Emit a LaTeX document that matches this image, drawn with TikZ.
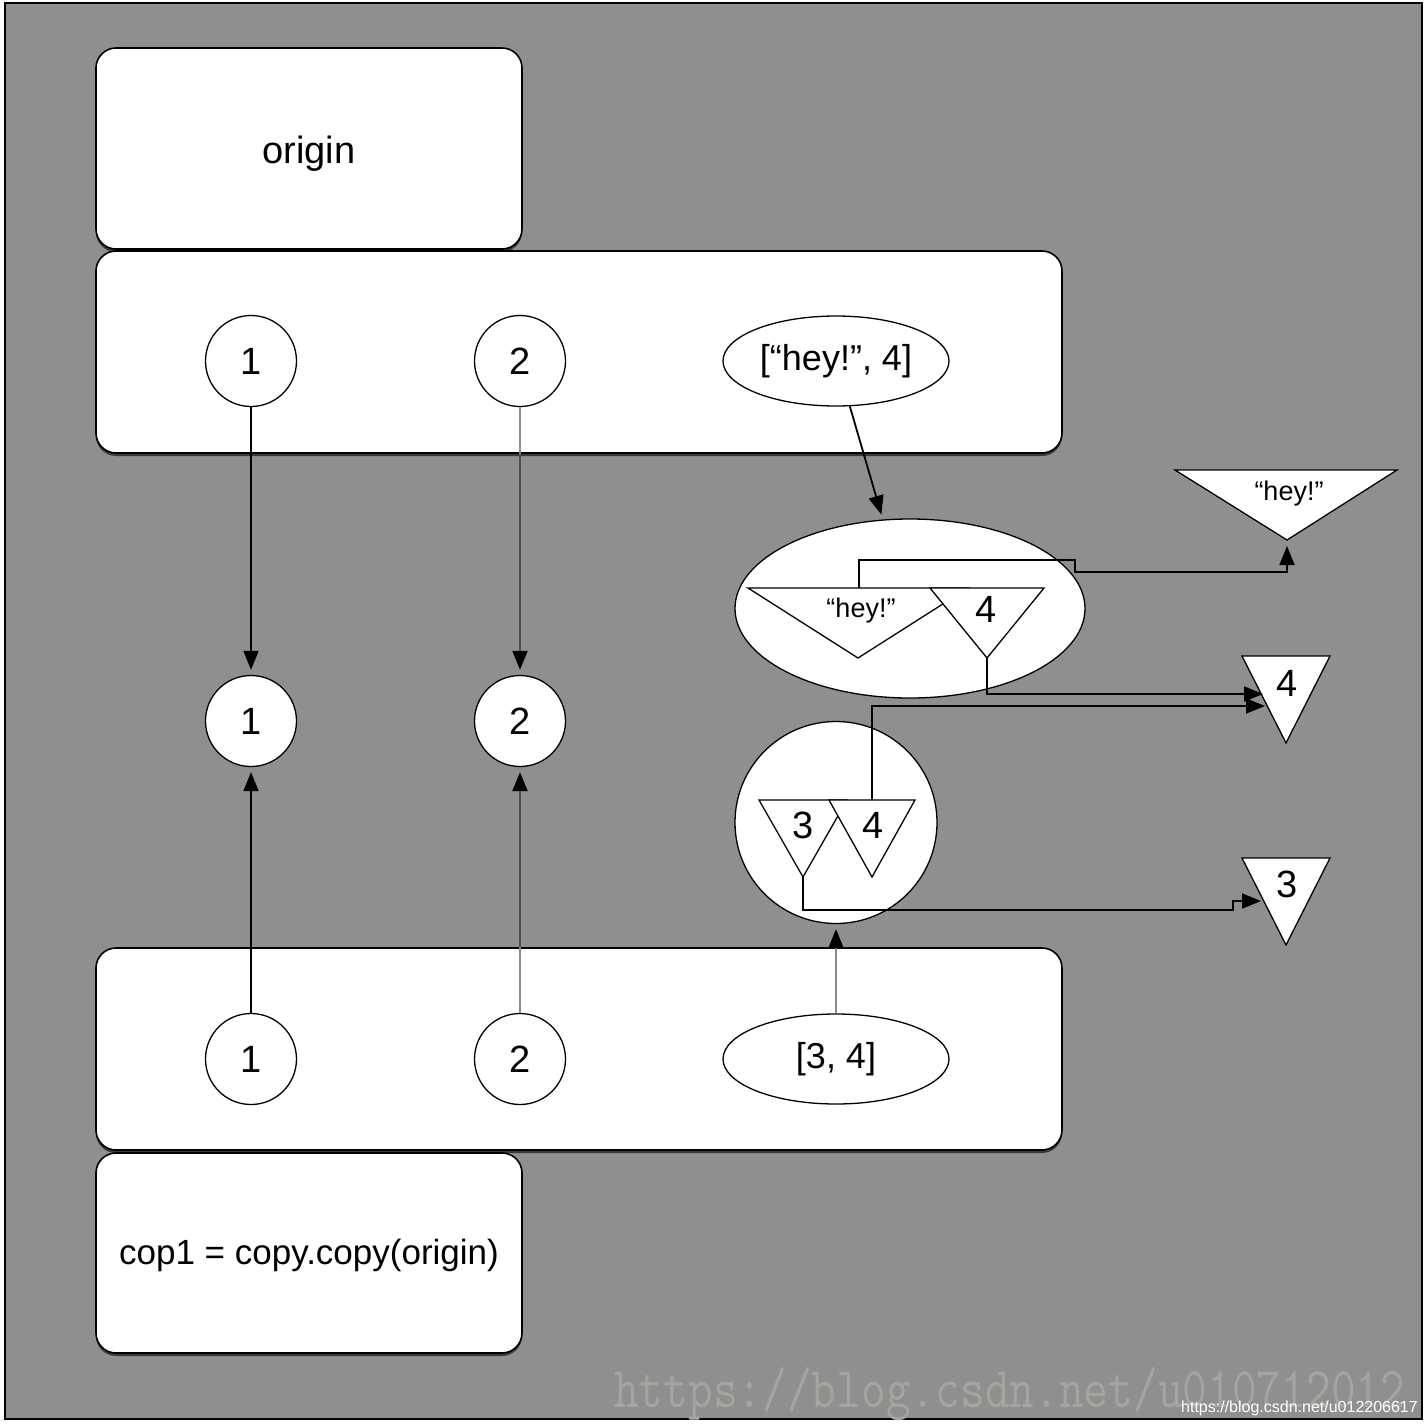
\documentclass[tikz,border=0pt]{standalone}
\usepackage{fontspec}
\setmainfont{Liberation Sans}
\usetikzlibrary{arrows.meta,shapes.geometric,shadows}
\definecolor{bg}{HTML}{8F8F8F}
\definecolor{lgray}{HTML}{8A8A8A}
\definecolor{dgray}{HTML}{4E4E4E}
\definecolor{wm}{HTML}{A3A59E}
\begin{document}
\begin{tikzpicture}[x=1pt,y=-1pt,
  box/.style={draw,line width=1.6pt,rounded corners=20pt,fill=white,inner sep=0pt,
     drop shadow={shadow xshift=0pt,shadow yshift=-3pt,opacity=0.6,fill=black}},
  circ/.style={circle,draw,line width=1.3pt,fill=white,minimum size=91pt,inner sep=0pt,font=\fontsize{38}{40}\selectfont},
  ell/.style={ellipse,draw,line width=1.3pt,fill=white,minimum width=226pt,minimum height=90pt,inner sep=0pt,font=\fontsize{36}{40}\selectfont},
  lab/.style={inner sep=0pt,font=\fontsize{38}{40}\selectfont},
  small/.style={inner sep=0pt,font=\fontsize{27}{30}\selectfont},
  tri/.style={draw,line width=1.3pt,fill=white,line join=miter},
  conn/.style={line width=1.8pt,-{Triangle[length=19pt,width=15pt]}},
  arr/.style={conn,shorten >=5pt},
  gline/.style={line width=2pt,draw=lgray},
  garr/.style={line width=2pt,draw=dgray,-{Triangle[length=19pt,width=15pt,black]},shorten >=5pt},
]
% background and frame
\fill[white] (0,0) rectangle (1428,1428);
\draw[fill=bg,line width=1.8pt] (5,3) rectangle (1422,1419);

% boxes
\node[box,minimum width=426pt,minimum height=201pt] (origin) at (309,148.5) {};
\node[lab] (originlab) at (309,153.5) {origin};
\node[box,minimum width=966pt,minimum height=202pt] (obox) at (579,352) {};
\node[box,minimum width=966pt,minimum height=202pt] (cbox) at (579,1049) {};
\node[box,minimum width=426pt,minimum height=200pt] (cop) at (309,1253) {};
\node[inner sep=0pt,font=\fontsize{35}{40}\selectfont] (coplab) at (309,1255) {cop1 = copy.copy(origin)};

% circles
\node[circ] (t1) at (251,361) {1};
\node[circ] (t2) at (520,361) {2};
\node[circ] (m1) at (251,721) {1};
\node[circ] (m2) at (520,721) {2};
\node[circ] (b1) at (251,1059) {1};
\node[circ] (b2) at (520,1059) {2};

% list ellipses
\node[ell] (e1) at (836,361) {[“hey!”, 4]};
\node[ell] (e2) at (836,1059) {[3, 4]};

% containers
\node[ellipse,draw,line width=1.3pt,fill=white,minimum width=350pt,minimum height=179pt,inner sep=0pt] (E) at (910,608.5) {};
\node[circle,draw,line width=1.3pt,fill=white,minimum size=202pt,inner sep=0pt] (C) at (836,822.5) {};

% triangles inside E
\coordinate (hL) at (748,588); \coordinate (hR) at (968,588); \coordinate (hA) at (858,658);
\coordinate (fL) at (930,588); \coordinate (fR) at (1044,588); \coordinate (fA) at (987,658);
\filldraw[tri] (hL) -- (hR) -- (hA) -- cycle;
\filldraw[tri] (fL) -- (fR) -- (fA) -- cycle;
\node[small] (hlab) at (861,611) {“hey!”};
\node[lab] (flab) at (986,609) {4};

% triangles inside C
\coordinate (tL) at (759,800); \coordinate (tR) at (847,800); \coordinate (tA) at (803,877);
\coordinate (qL) at (829,800); \coordinate (qR) at (915,800); \coordinate (qA) at (872,877);
\filldraw[tri] (tL) -- (tR) -- (tA) -- cycle;
\filldraw[tri] (qL) -- (qR) -- (qA) -- cycle;
\node[lab] (tlab) at (803,825) {3};
\node[lab] (qlab) at (873,825) {4};

% right-hand triangles
\coordinate (RhL) at (1175,470); \coordinate (RhR) at (1397,470); \coordinate (RhA) at (1287,540);
\coordinate (R4L) at (1242,656); \coordinate (R4R) at (1330,656); \coordinate (R4A) at (1286,743);
\coordinate (R3L) at (1242,858); \coordinate (R3R) at (1330,858); \coordinate (R3A) at (1286,945);
\filldraw[tri] (RhL) -- (RhR) -- (RhA) -- cycle;
\filldraw[tri] (R4L) -- (R4R) -- (R4A) -- cycle;
\filldraw[tri] (R3L) -- (R3R) -- (R3A) -- cycle;
\node[small] (Rhlab) at (1289,494) {“hey!”};
\node[lab] (R4lab) at (1287,683) {4};
\node[lab] (R3lab) at (1287,884) {3};

% vertical arrows
\draw[arr] (t1) -- (m1);
\draw[gline] (t2.south) -- (t2 |- obox.south);
\draw[garr] (t2 |- obox.south) -- (m2);
\draw[arr] (b1) -- (m1);
\draw[gline] (b2.north) -- (b2 |- cbox.north);
\draw[garr] (b2 |- cbox.north) -- (m2);
\draw[arr] (e1.-73) -- (E.107);
\draw[gline] (e2.north) -- (e2 |- cbox.north);
\draw[garr] (e2 |- cbox.north) -- (C);

% elbow connectors
\coordinate (hT) at (859,588);
\coordinate (qT) at (872,800);
\coordinate (r4a) at (1263,694);
\coordinate (r4b) at (1265,706);
\coordinate (r3a) at (1261,901);
\draw[conn,shorten >=6pt] (hT) -- ++(0,-28) -- ++(216,0) -- ++(0,12) -- ++(212,0) -- (RhA);
\draw[conn] (fA) |- (r4a);
\draw[conn] (qT) |- (r4b);
\draw[conn] (tA) -- ++(0,33) -- ++(430,0) -- ++(0,-9) -- (r3a);

% watermarks
\node[anchor=west,text=wm,font=\ttfamily\fontsize{48}{50}\selectfont,inner sep=0pt] (wm1) at (614,1394) {\scalebox{1}[1.2]{https://blog.csdn.net/u010712012}};
\node[anchor=east,text=white,font=\fontsize{16}{18}\selectfont,inner sep=0pt] (wm2) at (1418,1408) {https://blog.csdn.net/u012206617};
\end{tikzpicture}
\end{document}
